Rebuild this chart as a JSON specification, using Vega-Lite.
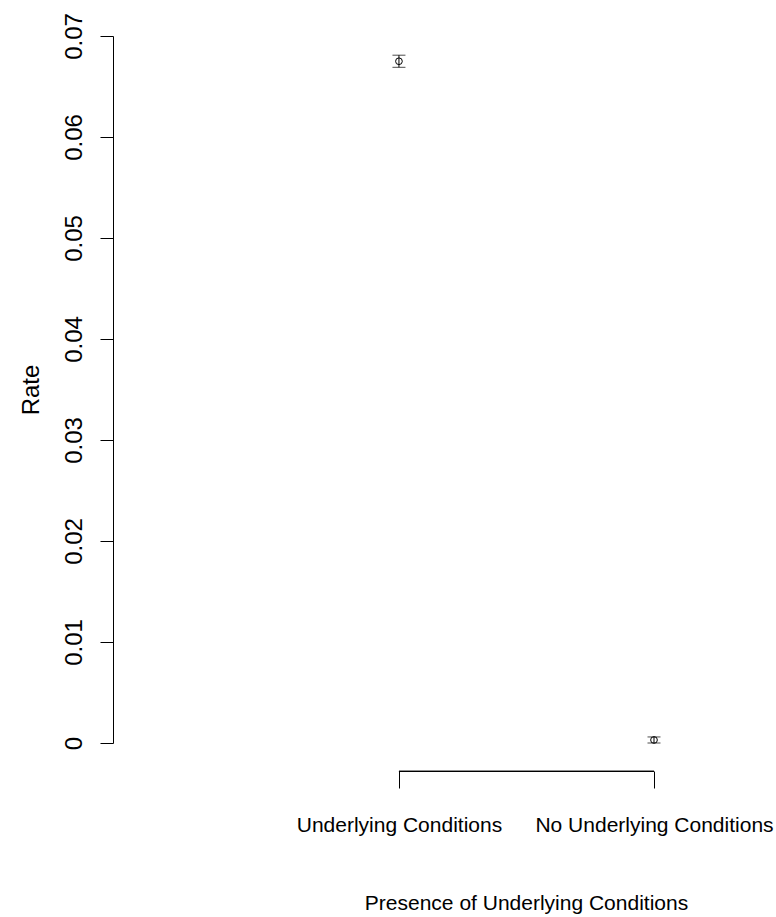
{
  "$schema": "https://vega.github.io/schema/vega-lite/v6.json",
  "width": 657,
  "height": 707,
  "autosize": {"type": "none"},
  "padding": {"left": 113, "top": 36, "right": 6, "bottom": 174},
  "background": "white",
  "config": {
    "view": {"stroke": null},
    "axis": {"grid": false, "domainColor": "black", "tickColor": "black", "labelColor": "black", "titleColor": "black", "titleFontWeight": "normal"}
  },
  "data": {
    "values": [
      {"group": "Underlying Conditions", "rate": 0.0675, "lower": 0.0669, "upper": 0.0681},
      {"group": "No Underlying Conditions", "rate": 0.0003, "lower": 0.0000, "upper": 0.0006}
    ]
  },
  "encoding": {
    "x": {
      "field": "group", "type": "nominal", "sort": null,
      "scale": {"type": "point", "padding": 0.788, "align": 0.7114},
      "axis": {
        "title": "Presence of Underlying Conditions",
        "offset": 28, "domain": false, "tickSize": 17, "labelAngle": 0, "labelLimit": 0,
        "labelFont": "Liberation Sans", "labelFontSize": 21, "labelPadding": 26,
        "titleFont": "Liberation Sans", "titleFontSize": 21,
        "titleX": 413, "titleY": 138, "titleBaseline": "alphabetic"
      }
    }
  },
  "layer": [
    {
      "mark": {"type": "rule", "color": "black", "strokeWidth": 1.2, "clip": false},
      "encoding": {
        "x": {"datum": "Underlying Conditions"},
        "x2": {"datum": "No Underlying Conditions"},
        "y": {"datum": -0.0028, "type": "quantitative"}
      }
    },
    {
      "mark": {"type": "rule", "color": "black", "strokeWidth": 1},
      "encoding": {
        "y": {
          "field": "lower", "type": "quantitative",
          "scale": {"domain": [0, 0.07], "nice": false, "zero": false},
          "axis": {
            "title": "Rate", "values": [0, 0.01, 0.02, 0.03, 0.04, 0.05, 0.06, 0.07],
            "format": "~g", "labelAngle": -90, "tickSize": 13,
            "labelFont": "Liberation Sans", "labelFontSize": 24, "labelPadding": 14,
            "titleFont": "Liberation Sans", "titleFontSize": 24, "titlePadding": 19
          }
        },
        "y2": {"field": "upper"}
      }
    },
    {
      "mark": {"type": "tick", "orient": "horizontal", "color": "black", "size": 13, "thickness": 1},
      "encoding": {"y": {"field": "lower", "type": "quantitative"}}
    },
    {
      "mark": {"type": "tick", "orient": "horizontal", "color": "black", "size": 13, "thickness": 1},
      "encoding": {"y": {"field": "upper", "type": "quantitative"}}
    },
    {
      "mark": {"type": "point", "shape": "circle", "filled": false, "color": "black", "size": 45, "strokeWidth": 1, "opacity": 1},
      "encoding": {"y": {"field": "rate", "type": "quantitative"}}
    }
  ]
}
